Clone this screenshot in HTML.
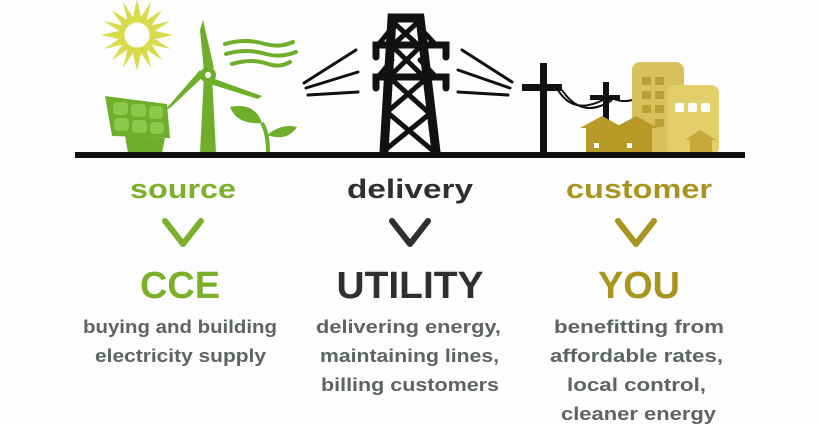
<!DOCTYPE html>
<html><head><style>
html,body{margin:0;padding:0;background:#fff;}
svg{display:block;}
text{font-family:"Liberation Sans",sans-serif;}
.h{font-weight:bold;font-size:27px;}
.b{font-weight:bold;font-size:38px;}
.t{font-size:18.5px;fill:#5e6461;font-weight:bold;}
</style></head><body>
<svg width="818" height="425" viewBox="0 0 818 425">
<rect width="818" height="425" fill="#fdfdfd"/>
<!-- sun -->
<g transform="translate(137,35)">
<g fill="#d8dc4a">
<polygon points="0,-36 5,-14 -5,-14" /><polygon points="0,36 5,14 -5,14"/>
<polygon points="-36,0 -14,5 -14,-5"/><polygon points="36,0 14,5 14,-5"/>
<polygon points="-25,-25 -7,-13 -13,-7"/><polygon points="25,25 7,13 13,7"/>
<polygon points="25,-25 7,-13 13,-7"/><polygon points="-25,25 -7,13 -13,7"/>
<polygon points="-14,-33 -2,-15 -9,-12"/><polygon points="14,33 2,15 9,12"/>
<polygon points="14,-33 2,-15 9,-12"/><polygon points="-14,33 -2,15 -9,12"/>
<polygon points="-33,-14 -15,-2 -12,-9"/><polygon points="33,14 15,2 12,9"/>
<polygon points="33,-14 15,-2 12,-9"/><polygon points="-33,14 -15,2 -12,9"/>
</g>
<circle r="15" fill="none" stroke="#d8dc4a" stroke-width="5"/>
</g>
<!-- wind turbine -->
<g fill="#6fae2a">
<polygon points="200,153 204,75 212,75 216,153"/>
<polygon points="204,72 200,30 203,20 214,68"/>
<polygon points="204,76 170,108 165,110 200,70"/>
<polygon points="212,78 262,96 258,99 210,84"/>
<circle cx="208" cy="75" r="8"/>
</g>
<circle cx="208" cy="75" r="3" fill="#fff"/>
<g fill="none" stroke="#6fae2a" stroke-width="4" stroke-linecap="round">
<path d="M225,44 q20,-6 40,0 q15,4 28,-2"/>
<path d="M226,54 q20,-6 40,0 q15,4 30,-2"/>
<path d="M232,64 q20,-6 36,0 q12,4 22,-2"/>
</g>
<!-- solar panel -->
<polygon points="105,96 167,104 170,138 112,136" fill="#6fae2a"/>
<polygon points="125,136 165,138 162,153 128,153" fill="#6fae2a"/>
<g fill="#8cc84a">
<rect x="113" y="102" width="15" height="13" rx="4"/><rect x="131" y="104" width="15" height="13" rx="4"/><rect x="149" y="106" width="14" height="13" rx="4"/>
<rect x="114" y="118" width="15" height="13" rx="4"/><rect x="132" y="120" width="15" height="13" rx="4"/><rect x="150" y="122" width="14" height="12" rx="4"/>
</g>
<!-- sprout -->
<path d="M268,153 q0,-20 -6,-30" stroke="#6fae2a" stroke-width="4" fill="none"/>
<path d="M262,123 q-25,2 -32,-16 q25,-5 32,16z" fill="#6fae2a"/>
<path d="M267,135 q15,-12 30,-8 q-10,15 -30,8z" fill="#6fae2a"/>
<!-- tower -->
<g stroke="#111" fill="none" stroke-linecap="round">
<path d="M384,152 L392,18 L420,18 L436,152" stroke-width="9"/>
<path d="M376,57 L376,45 L446,45 L446,57" stroke-width="7"/>
<path d="M376,88 L376,77 L446,77 L446,88" stroke-width="7"/>
<path d="M393,22 L418,45 M418,22 L393,45 M391,45 L424,77 M422,45 L389,77 M389,77 L428,112 M428,77 L387,112 M387,112 L432,150 M432,112 L385,150" stroke-width="5"/>
<path d="M392,28 L378,45 M420,28 L436,45 M392,60 L378,77 M420,60 L436,77" stroke-width="5"/>
<path d="M304,83 L356,50 M306,88 L358,72 M308,95 L358,92 M462,50 L512,82 M458,70 L510,88 M458,92 L508,95" stroke-width="3"/>
</g>
<!-- poles -->
<g fill="#111">
<rect x="540" y="63" width="7" height="92"/><rect x="522" y="84" width="40" height="7"/>
<rect x="603" y="82" width="6" height="45"/><rect x="590" y="95" width="30" height="5"/>
</g>
<path d="M558,90 q15,25 45,10 M562,90 q20,30 50,10 M612,98 q10,5 20,2" stroke="#111" stroke-width="2" fill="none"/>
<!-- buildings -->
<rect x="632" y="62" width="52" height="93" rx="8" fill="#d8c15a"/>
<g fill="#b8a035"><rect x="642" y="77" width="9" height="8"/><rect x="655" y="77" width="9" height="8"/><rect x="642" y="91" width="9" height="8"/><rect x="655" y="91" width="9" height="8"/><rect x="642" y="105" width="9" height="8"/><rect x="655" y="105" width="9" height="8"/><rect x="655" y="119" width="9" height="8"/></g>
<rect x="667" y="85" width="52" height="70" rx="8" fill="#e3cf6a"/>
<g fill="#fff"><rect x="675" y="103" width="9" height="9" rx="2"/><rect x="688" y="103" width="9" height="9" rx="2"/><rect x="701" y="103" width="9" height="9" rx="2"/></g>
<polygon points="685,140 700,130 716,140" fill="#c4a83a"/><rect x="690" y="140" width="22" height="15" fill="#c4a83a"/>
<g fill="#b89a28">
<polygon points="580,128 602,116 624,128 619,128 619,153 586,153 586,128"/>
<polygon points="614,128 636,116 658,128 652,128 652,153 619,153 619,128"/>
</g>
<g fill="#fff"><rect x="594" y="143" width="5" height="5"/><rect x="627" y="143" width="5" height="5"/></g>
<!-- ground -->
<rect x="75" y="152" width="670" height="6" fill="#111"/>
<!-- headings -->
<text class="h" x="183" y="198" text-anchor="middle" fill="#7bb02b" textLength="106" lengthAdjust="spacingAndGlyphs">source</text>
<text class="h" x="410" y="198" text-anchor="middle" fill="#2e302f" textLength="126" lengthAdjust="spacingAndGlyphs">delivery</text>
<text class="h" x="639" y="198" text-anchor="middle" fill="#a8951f" textLength="146" lengthAdjust="spacingAndGlyphs">customer</text>
<g fill="none" stroke-width="6" stroke-linecap="round" stroke-linejoin="round">
<path d="M165,221 L183,244 L201,221" stroke="#7bb02b"/>
<path d="M392,221 L410,244 L428,221" stroke="#2e302f"/>
<path d="M618,221 L636,244 L654,221" stroke="#a8951f"/>
</g>
<text class="b" x="180" y="298" text-anchor="middle" fill="#7bb02b" textLength="80" lengthAdjust="spacingAndGlyphs">CCE</text>
<text class="b" x="410" y="298" text-anchor="middle" fill="#2e302f" textLength="147" lengthAdjust="spacingAndGlyphs">UTILITY</text>
<text class="b" x="639" y="298" text-anchor="middle" fill="#a8951f" textLength="82" lengthAdjust="spacingAndGlyphs">YOU</text>
<g class="t">
<text class="t" x="83" y="333" textLength="194" lengthAdjust="spacingAndGlyphs">buying and building</text>
<text class="t" x="95" y="362" textLength="171" lengthAdjust="spacingAndGlyphs">electricity supply</text>
<text class="t" x="316" y="333" textLength="185" lengthAdjust="spacingAndGlyphs">delivering energy,</text>
<text class="t" x="320" y="362" textLength="179" lengthAdjust="spacingAndGlyphs">maintaining lines,</text>
<text class="t" x="321" y="391" textLength="178" lengthAdjust="spacingAndGlyphs">billing customers</text>
<text class="t" x="554" y="333" textLength="170" lengthAdjust="spacingAndGlyphs">benefitting from</text>
<text class="t" x="550" y="362" textLength="173" lengthAdjust="spacingAndGlyphs">affordable rates,</text>
<text class="t" x="567" y="391" textLength="139" lengthAdjust="spacingAndGlyphs">local control,</text>
<text class="t" x="561" y="420" textLength="155" lengthAdjust="spacingAndGlyphs">cleaner energy</text>
</g>
</svg>
</body></html>
